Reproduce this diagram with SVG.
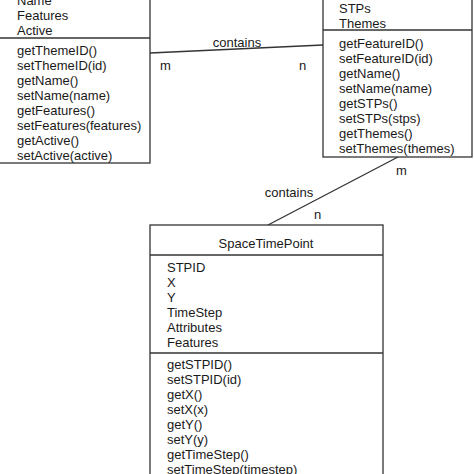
<svg xmlns="http://www.w3.org/2000/svg" width="474" height="474" viewBox="0 0 474 474">
<style>
.box{fill:#fff;stroke:#333;stroke-width:1.3}
.ln{stroke:#333;stroke-width:1.3;fill:none}
text{font-family:"Liberation Sans",Arial,sans-serif;font-size:13px;fill:#1a1a1a}
.c{text-anchor:middle}
</style>
<rect width="474" height="474" fill="#fff"/>
<g id="connectors">
<line class="ln" x1="150" y1="53" x2="323" y2="45"/>
<text class="c" x="237" y="47">contains</text>
<text x="160" y="70">m</text>
<text x="299" y="70">n</text>
<line class="ln" x1="398" y1="157" x2="268" y2="225"/>
<text class="c" x="289" y="197">contains</text>
<text x="396" y="175">m</text>
<text x="314" y="219">n</text>
</g>
<g id="theme">
<rect class="box" x="-2" y="-20" width="152" height="183"/>
<line class="ln" x1="-2" y1="38" x2="150" y2="38"/>
<text x="17" y="5">Name</text>
<text x="17" y="20">Features</text>
<text x="17" y="35">Active</text>
<text x="17" y="55">getThemeID()</text>
<text x="17" y="70">setThemeID(id)</text>
<text x="17" y="85">getName()</text>
<text x="17" y="100">setName(name)</text>
<text x="17" y="115">getFeatures()</text>
<text x="17" y="130">setFeatures(features)</text>
<text x="17" y="145">getActive()</text>
<text x="17" y="160">setActive(active)</text>
</g>
<g id="feature">
<rect class="box" x="323" y="-20" width="149" height="177"/>
<line class="ln" x1="323" y1="30" x2="472" y2="30"/>
<text x="339" y="13">STPs</text>
<text x="339" y="28">Themes</text>
<text x="339" y="48">getFeatureID()</text>
<text x="339" y="63">setFeatureID(id)</text>
<text x="339" y="78">getName()</text>
<text x="339" y="93">setName(name)</text>
<text x="339" y="108">getSTPs()</text>
<text x="339" y="123">setSTPs(stps)</text>
<text x="339" y="138">getThemes()</text>
<text x="339" y="153">setThemes(themes)</text>
</g>
<g id="spacetimepoint">
<rect class="box" x="150" y="225" width="233" height="270"/>
<line class="ln" x1="150" y1="255" x2="383" y2="255"/>
<line class="ln" x1="150" y1="353" x2="383" y2="353"/>
<text class="c" x="266" y="248">SpaceTimePoint</text>
<text x="167" y="272">STPID</text>
<text x="167" y="287">X</text>
<text x="167" y="302">Y</text>
<text x="167" y="317">TimeStep</text>
<text x="167" y="332">Attributes</text>
<text x="167" y="347">Features</text>
<text x="167" y="369">getSTPID()</text>
<text x="167" y="384">setSTPID(id)</text>
<text x="167" y="399">getX()</text>
<text x="167" y="414">setX(x)</text>
<text x="167" y="429">getY()</text>
<text x="167" y="444">setY(y)</text>
<text x="167" y="459">getTimeStep()</text>
<text x="167" y="474">setTimeStep(timestep)</text>
</g>
</svg>
